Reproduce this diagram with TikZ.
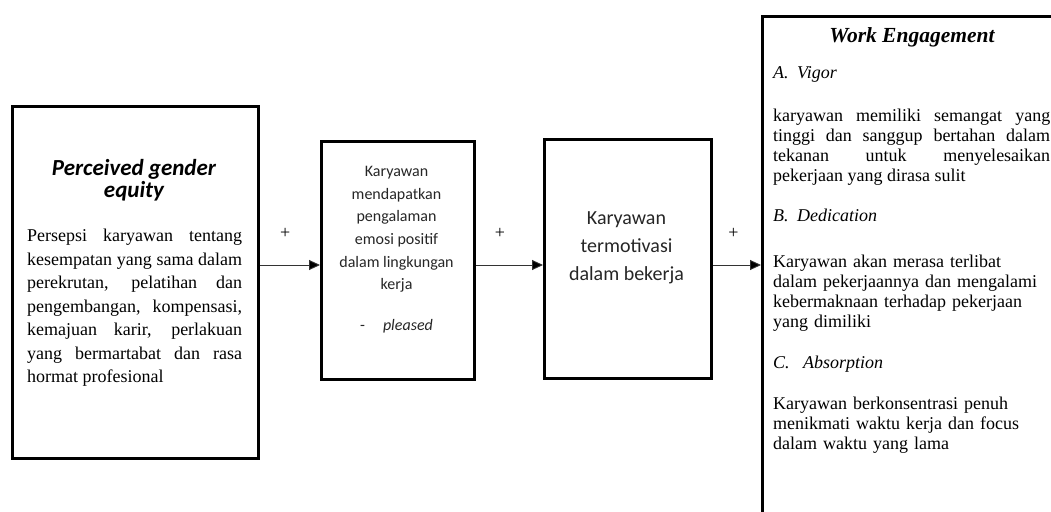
\documentclass[tikz,border=0pt]{standalone}
\usepackage{fontspec}
\setmainfont{Liberation Serif}
\newfontfamily\calibri{Carlito}
\usetikzlibrary{calc, arrows.meta}

\newcommand{\fsize}[2]{\fontsize{#1}{#2}\selectfont}

\begin{document}
\begin{tikzpicture}[x = 1pt, y = -1pt,
		frame/.style = {draw, line width = 2.8pt, inner sep = 0pt, anchor = north west},
		link/.style = {draw = black!80, line width = 0.9pt, -{Triangle[length = 11pt, width = 10pt, fill = black]}},
		sign/.style = {font = \fsize{18}{18}, inner sep = 0pt},
		body/.style = {inner sep = 0pt, anchor = north west, font = \fsize{18}{20}, align = justify},
		heading/.style = {inner sep = 0pt, anchor = base west, font = \fsize{18}{20}\itshape}]
		\def\flowy{265};
		
		\useasboundingbox (0,0) rectangle (1051,511);
		\clip (0,0) rectangle (1051,511);
		
		\coordinate (flow) at (0,\flowy);
		
		\node [frame, minimum width = 246pt, minimum height = 352pt] (equity) at (11,105) {};
		\node [frame, minimum width = 153pt, minimum height = 238pt] (emotion) at (320,140) {};
		\node [frame, minimum width = 167pt, minimum height = 239pt] (motivation) at (543,138) {};
		\node [frame, minimum width = 302pt, minimum height = 540pt] (engagement) at (761,15) {};
		
		\node [inner sep = 0pt, anchor = north, align = center, font = \calibri\bfseries\itshape\fsize{23}{22.5}] (equity title) at (134,159) {Perceived gender\\equity};
		\node [body, text width = 215pt, font = \fsize{18}{23.5}] (equity text) at (27,229) {Persepsi karyawan tentang\linebreak kesempatan yang sama dalam\linebreak perekrutan, pelatihan dan\linebreak pengembangan, kompensasi,\linebreak kemajuan karir, perlakuan\linebreak yang bermartabat dan rasa\linebreak hormat profesional};
		
		\node [inner sep = 0pt, anchor = north, align = center, text = black!85, font = \calibri\fsize{16}{22.7}] (emotion text) at (396.5,166) {Karyawan\\mendapatkan\\pengalaman\\emosi positif\\dalam lingkungan\\kerja\\[18pt] -\hspace{18pt}\textit{pleased}};
		
		\node [inner sep = 0pt, anchor = north, align = center, text = black!85, font = \calibri\fsize{20}{28}] (motivation text) at (626.5,211) {Karyawan\\termotivasi\\dalam bekerja};
		
		\node [inner sep = 0pt, anchor = base, font = \fsize{21.5}{22}\bfseries\itshape] (engagement title) at (912,42) {Work Engagement};
		\node [heading] (vigor) at (773,78) {\makebox[24pt][l]{A.}Vigor};
		\node [body, text width = 277pt] (vigor text) at (773,109) {karyawan memiliki semangat yang\linebreak tinggi dan sanggup bertahan dalam\linebreak tekanan untuk menyelesaikan\linebreak pekerjaan yang dirasa sulit};
		\node [heading] (dedication) at (773,221) {\makebox[24pt][l]{B.}Dedication};
		\node [body, text width = 277pt, align = left] (dedication text) at (773,255) {Karyawan akan merasa terlibat\\dalam pekerjaannya dan mengalami\\kebermaknaan terhadap pekerjaan\\yang dimiliki};
		\node [heading] (absorption) at (773,368) {\makebox[30pt][l]{C.}Absorption};
		\node [body, text width = 277pt, align = left] (absorption text) at (773,397) {Karyawan berkonsentrasi penuh\\menikmati waktu kerja dan focus\\dalam waktu yang lama};
		
		\draw [link] (equity.east |- flow) -- (emotion.west |- flow) node [sign, pos = 0.42, above = 26pt] {+};
		\draw [link] (emotion.east |- flow) -- (motivation.west |- flow) node [sign, pos = 0.36, above = 26pt] {+};
		\draw [link] (motivation.east |- flow) -- (engagement.west |- flow) node [sign, pos = 0.43, above = 26pt] {+};
	\end{tikzpicture}
\end{document}
